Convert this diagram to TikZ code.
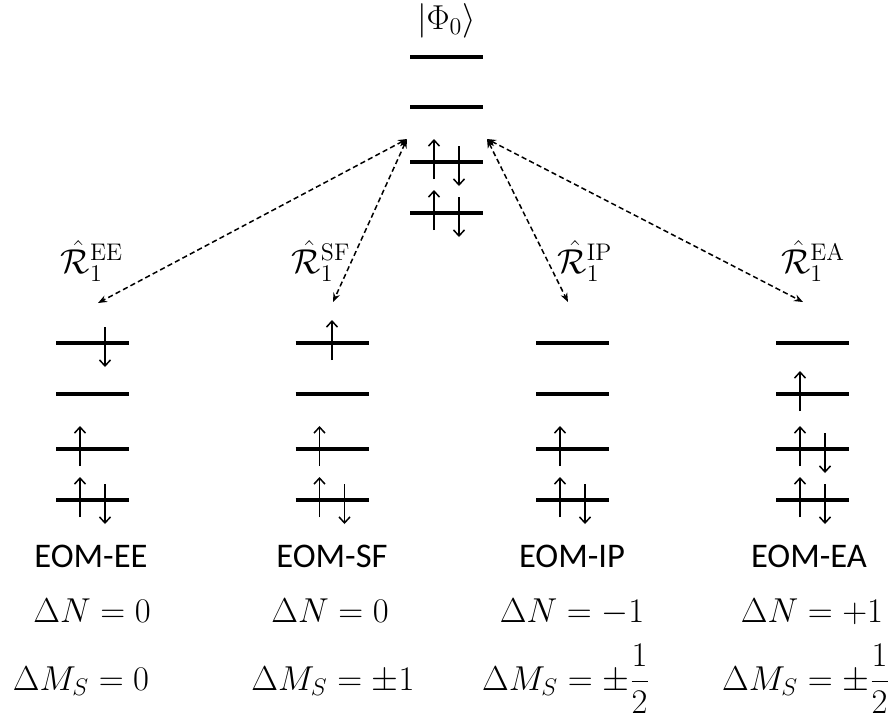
\documentclass[tikz,border=0pt]{standalone}
\usepackage{amsmath}
\usepackage{fontspec}
\newfontfamily\eomfont{Carlito}
\usetikzlibrary{arrows.meta}

\begin{document}
\begin{tikzpicture}[x=0.5pt, y=-0.5pt, font=\LARGE,
        level/.style={line width=2pt},
        spin/.style={line width=0.75pt, -{Straight Barb[length=3pt,width=5.5pt]}},
        excite/.style={line width=0.75pt, dash pattern=on 2.6pt off 1.6pt,
            {Stealth[length=4.5pt,width=3.5pt]}-{Stealth[length=4.5pt,width=3.5pt]}},
        eom/.style={anchor=base, font=\LARGE\eomfont},
        delta/.style={anchor=base, font=\fontsize{18.2}{22}\selectfont}]
        \useasboundingbox (0,0) rectangle (894,720);
        % reference determinant
        \node[anchor=base] (phi0) at (446.5,29) {$|\Phi_0\rangle$};
        \foreach \y in {57,107,162,213}
            \draw[level] (410,\y) -- (483,\y);
        % four target determinants
        \foreach \cx in {92.5,332,572.5,812.5}
            \foreach \y in {343,394,449,500}
                \draw[level] ({\cx-36.5},\y) -- ({\cx+36.5},\y);
        % doubly occupied levels
        \foreach \cx/\y in {446.5/162, 446.5/213, 92.5/500, 332/500, 572.5/500, 812.5/500, 812.5/449} {
            \draw[spin] ({\cx-12.5},{\y+17}) -- ({\cx-12.5},{\y-23});
            \draw[spin] ({\cx+12.5},{\y-16}) -- ({\cx+12.5},{\y+24});
        }
        % singly occupied levels
        \foreach \cx/\y in {92.5/449, 332/449, 572.5/449, 812.5/394, 344.5/343}
            \draw[spin] ({\cx-12.5},{\y+17}) -- ({\cx-12.5},{\y-23});
        \draw[spin] (105,327) -- (105,367);
        % excitation operators
        \coordinate (from-l) at (407,139);
        \coordinate (from-r) at (487,139);
        \coordinate (to-ee) at (98,303);
        \coordinate (to-sf) at (333,302);
        \coordinate (to-ip) at (568,302);
        \coordinate (to-ea) at (803,302);
        \draw[excite] (from-l) -- (to-ee);
        \draw[excite] (from-l) -- (to-sf);
        \draw[excite] (from-r) -- (to-ip);
        \draw[excite] (from-r) -- (to-ea);
        \node[anchor=base] (r-ee) at (92,273) {$\hat{\mathcal{R}}_1^{\mathrm{EE}}$};
        \node[anchor=base] (r-sf) at (321,273) {$\hat{\mathcal{R}}_1^{\mathrm{SF}}$};
        \node[anchor=base] (r-ip) at (585,273) {$\hat{\mathcal{R}}_1^{\mathrm{IP}}$};
        \node[anchor=base] (r-ea) at (813,273) {$\hat{\mathcal{R}}_1^{\mathrm{EA}}$};
        % method labels
        \node[eom] (eom-ee) at (91,567) {EOM-EE};
        \node[eom] (eom-sf) at (332,567) {EOM-SF};
        \node[eom] (eom-ip) at (572,567) {EOM-IP};
        \node[eom] (eom-ea) at (809,567) {EOM-EA};
        \node[delta] (dn-ee) at (92,622) {$\Delta N = 0$};
        \node[delta] (dn-sf) at (330,622) {$\Delta N = 0$};
        \node[delta] (dn-ip) at (572,622) {$\Delta N = -1$};
        \node[delta] (dn-ea) at (812,622) {$\Delta N = +1$};
        \node[delta] (dm-ee) at (81,690) {$\Delta M_S = 0$};
        \node[delta] (dm-sf) at (333,690) {$\Delta M_S = \pm 1$};
        \node[delta] (dm-ip) at (566,690) {$\displaystyle \Delta M_S = \pm\frac{1}{2}$};
        \node[delta] (dm-ea) at (806,690) {$\displaystyle \Delta M_S = \pm\frac{1}{2}$};
    \end{tikzpicture}
\end{document}
